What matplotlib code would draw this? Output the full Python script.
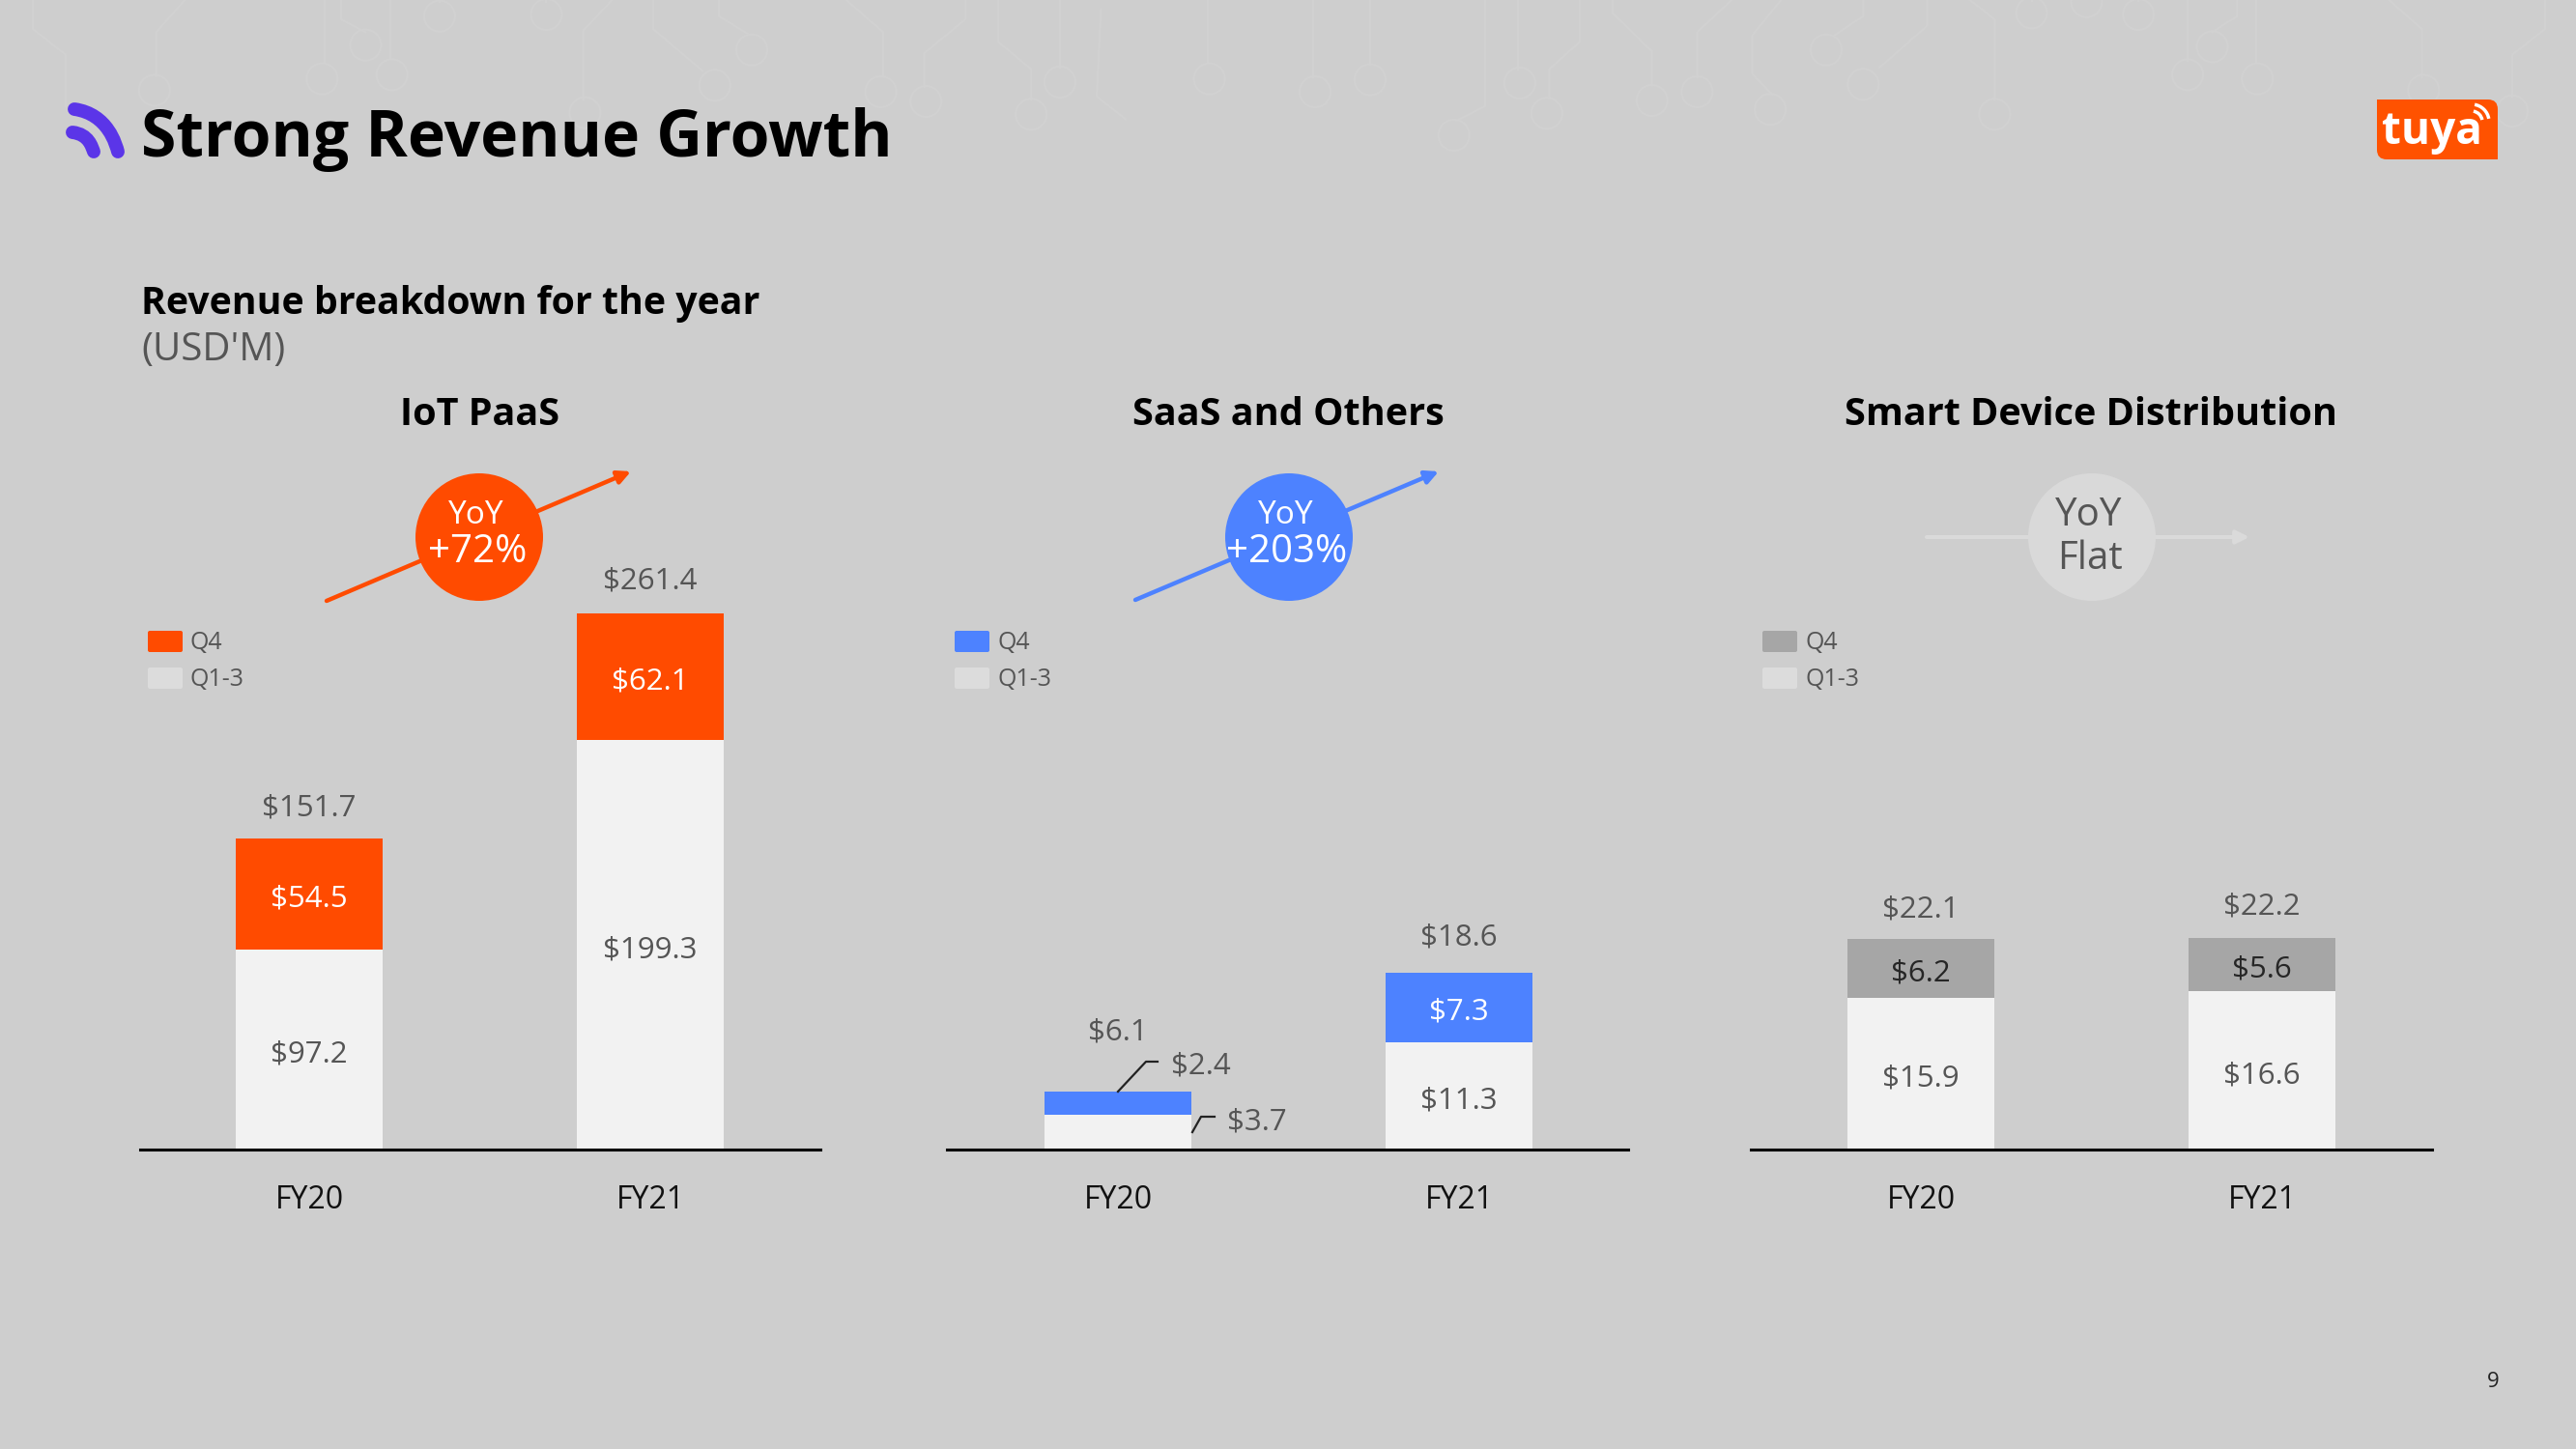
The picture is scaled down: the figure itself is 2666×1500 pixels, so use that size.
import matplotlib
matplotlib.use("Agg")
import matplotlib.pyplot as plt
from matplotlib.patches import Circle, FancyBboxPatch, Rectangle, PathPatch, Arc
from matplotlib.path import Path

plt.rcParams['font.family'] = ['Open Sans', 'DejaVu Sans']

# ---- data ----
categories = ["FY20", "FY21"]
panel_titles = ["IoT PaaS", "SaaS and Others", "Smart Device Distribution"]
q13_values = [[97.2, 199.3], [3.7, 11.3], [15.9, 16.6]]
q4_values = [[54.5, 62.1], [2.4, 7.3], [6.2, 5.6]]
totals = [[151.7, 261.4], [6.1, 18.6], [22.1, 22.2]]
q4_colors = ["#FF4B00", "#4D82FF", "#A6A6A6"]
q4_text = ["white", "white", "#262626"]
yoy_top = ["YoY", "YoY", "YoY"]
yoy_bottom = ["+72%", "+203%", "Flat"]
legend_labels = ["Q4", "Q1-3"]

W, H = 2666, 1500
BG = "#CECECE"
LIGHT = "#F2F2F2"
GRAY = "#555555"
fig = plt.figure(figsize=(W / 100, H / 100), dpi=100, facecolor=BG)

bg = fig.add_axes([0, 0, 1, 1], zorder=0)
bg.set_xlim(0, W); bg.set_ylim(H, 0); bg.axis("off")

# faint circuit pattern along the top (traced in crop coordinates)
C = "#D1D1D1"
left_traces = [
    ([(40,0),(40,90),(80,170),(80,330)], None),
    ([(225,0),(190,100),(190,235)], (188,280)),
    ([(395,0),(395,195)], (392,245)),
    ([(415,0),(415,60),(445,100)], (445,140)),
    ([(475,0),(475,180)], (477,232)),
    ([(535,0),(535,5)], (535,50)),
    ([(665,0),(665,5)], (665,45)),
    ([(745,0),(710,95),(710,310)], (712,350)),
    ([(795,0),(795,90),(855,220)], (870,265)),
    ([(875,0),(875,50),(910,105)], (915,155)),
    ([(1030,0),(1075,100),(1075,235)], (1072,285)),
    ([(1175,0),(1175,60),(1125,165),(1125,270)], (1127,315)),
    ([(1215,0),(1215,130),(1255,215),(1255,310)], (1255,355)),
    ([(1290,0),(1290,210)], (1290,255)),
    ([(1340,30),(1335,300),(1370,370)], None),
    ([(1470,0),(1470,195)], (1472,245)),
]
right_traces = [
    ([(30,0),(30,240)], (33,285)),
    ([(100,0),(100,200)], (100,248)),
    ([(240,0),(240,330),(205,375)], (202,420)),
    ([(280,0),(280,215)], (282,258)),
    ([(355,0),(355,130),(318,215),(318,305)], (315,352)),
    ([(395,0),(395,40),(443,160),(443,265)], (443,312)),
    ([(540,0),(498,100),(498,240)], (498,285)),
    ([(600,0),(565,110),(565,230),(590,295)], (587,340)),
    ([(700,0),(700,50),(665,110)], (655,155)),
    ([(778,0),(778,80),(720,210)], (700,262)),
    ([(830,0),(860,60),(860,310)], (860,355)),
    ([(905,0),(905,2)], (905,40)),
    ([(1035,0),(1035,2)], (1035,45)),
    ([(972,0),(972,1)], (972,5)),
    ([(1095,0),(1095,190)], (1095,232)),
    ([(1155,0),(1155,50),(1125,100)], (1125,145)),
    ([(1178,0),(1178,195)], (1180,245)),
    ([(1340,0),(1380,90),(1380,240)], (1382,280)),
    ([(1530,0),(1530,90),(1490,170),(1490,300)], (1490,345)),
]
for traces, ox in ((left_traces, 0), (right_traces, 1333)):
    for pts, circ in traces:
        bg.plot([p[0] / 1.176 + ox for p in pts], [p[1] / 3 for p in pts], color=C, lw=1.6)
        if circ:
            bg.add_patch(Circle((circ[0] / 1.176 + ox, circ[1] / 3), 16, fill=False, ec=C, lw=1.6))

ov = fig.add_axes([0, 0, 1, 1], zorder=5)
ov.set_xlim(0, W); ov.set_ylim(H, 0); ov.axis("off"); ov.patch.set_alpha(0)

BASE = 1190
AX_H = 620
SPACING = 353
panels = [(145, 849, 320), (980, 1685, 1157), (1812, 2517, 1988)]
px_per_unit = [2.125, 9.85, 9.85]
legend_x = [153, 988, 1824]
bar_w = 0.433
label_fs = 22.5
label_drop = 5
total_gap = {(0, 0): 31, (0, 1): 33, (1, 0): 61, (1, 1): 36, (2, 0): 31, (2, 1): 33}
for i, (x0, x1, c0) in enumerate(panels):
    ax = fig.add_axes([x0 / W, 1 - BASE / H, (x1 - x0) / W, AX_H / H], zorder=3)
    ax.patch.set_alpha(0)
    ax.set_xlim((x0 - c0) / SPACING, (x1 - c0) / SPACING)
    ax.set_ylim(0, AX_H / px_per_unit[i])
    xs = [0, 1]
    ax.bar(xs, q13_values[i], width=bar_w, color=LIGHT)
    ax.bar(xs, q4_values[i], width=bar_w, bottom=q13_values[i], color=q4_colors[i])
    for s in ["top", "left", "right"]:
        ax.spines[s].set_visible(False)
    ax.spines["bottom"].set_linewidth(2.2)
    ax.spines["bottom"].set_color("black")
    ax.set_yticks([])
    ax.set_xticks(xs, categories)
    ax.tick_params(axis="x", length=0, pad=26, labelsize=23, labelcolor="#111111")
    drop = label_drop / px_per_unit[i]
    for k in xs:
        q13, q4, tot = q13_values[i][k], q4_values[i][k], totals[i][k]
        ax.text(k, tot + total_gap[(i, k)] / px_per_unit[i], f"${tot}", ha="center", va="center",
                fontsize=label_fs, color=GRAY, clip_on=False)
        if i == 1 and k == 0:
            continue
        ax.text(k, q13 / 2 - drop, f"${q13}", ha="center", va="center", fontsize=label_fs, color=GRAY)
        ax.text(k, q13 + q4 / 2 - drop, f"${q4}", ha="center", va="center", fontsize=label_fs, color=q4_text[i])
    # legend
    lx = legend_x[i]
    for j, (ly, col) in enumerate(zip([664, 702], [q4_colors[i], "#DCDCDC"])):
        ov.add_patch(FancyBboxPatch((lx, ly - 11), 36, 22, boxstyle="round,pad=0,rounding_size=2", fc=col, ec="none"))
        ov.text(lx + 44, ly + 1, legend_labels[j], fontsize=18, color=GRAY, ha="left", va="center")

# small SaaS FY20 labels with leader lines
ov.plot([1157, 1186, 1198], [1130, 1099, 1099], color="#222222", lw=1.6)
ov.plot([1234, 1243, 1257], [1172, 1156, 1156], color="#222222", lw=1.6)
ov.text(1243, 1104, f"${q4_values[1][0]}", fontsize=label_fs, color=GRAY, ha="center", va="center")
ov.text(1301, 1162, f"${q13_values[1][0]}", fontsize=label_fs, color=GRAY, ha="center", va="center")

# panel titles
for t, x in zip(panel_titles, [497, 1333, 2164]):
    ov.text(x, 429, t, fontsize=28.5, fontweight="bold", color="black", ha="center", va="center")

# YoY arrows and bubbles
arrows = [((338, 622), (653, 488)), ((1175, 621), (1489, 488)), ((1994, 556), (2328, 556))]
bub = [(496, 556), (1334, 556), (2165, 556)]
bub_col = ["#FF4B00", "#4D82FF", "#D9D9D9"]
arr_col = ["#FF4B00", "#4D82FF", "#DADADA"]
txt_col = ["white", "white", GRAY]
arr_lw = [3.2, 3.2, 3]
top_fs = [24, 24, 29]
top_y = [-23, -23, -22]
bot_y = [16, 16, 23]
for a, b, bc, ac, tc, lw, t, bl, tfs, ty, by in zip(arrows, bub, bub_col, arr_col, txt_col, arr_lw,
                                                     yoy_top, yoy_bottom, top_fs, top_y, bot_y):
    ov.annotate("", xy=a[1], xytext=a[0], arrowprops=dict(arrowstyle="-|>,head_length=0.8,head_width=0.4",
                color=ac, lw=lw, shrinkA=0, shrinkB=0), zorder=2)
    ov.add_patch(Circle(b, 66, fc=bc, ec="none", zorder=3))
    ov.text(b[0] - 3, b[1] + ty, t, fontsize=tfs, color=tc, ha="center", va="center", zorder=4)
    ov.text(b[0] - 2, b[1] + by, bl, fontsize=29, color=tc, ha="center", va="center", zorder=4)

# headers
ov.text(146, 145, "Strong Revenue Growth", fontsize=47.5, fontweight="bold", color="black", ha="left", va="center")
ov.text(146, 314, "Revenue breakdown for the year", fontsize=28.3, fontweight="bold", color="black", ha="left", va="center")
ov.text(146, 363, "(USD'M)", fontsize=29, color=GRAY, ha="left", va="center")
ov.text(2580, 1430, "9", fontsize=16, color="#222222", ha="center", va="center")

# title icon: purple signal arcs
P = "#5B35E8"
for verts in ([(77, 113), (112, 118), (120, 150), (122, 157)], [(75, 137), (92, 139), (95, 152), (97, 157)]):
    ov.add_patch(PathPatch(Path(verts, [Path.MOVETO, Path.CURVE4, Path.CURVE4, Path.CURVE4]),
                           fill=False, ec=P, lw=10, capstyle="round"))

# tuya logo
O = "#FF5200"
ov.add_patch(FancyBboxPatch((2460, 103), 125, 62, boxstyle="round,pad=0,rounding_size=10", fc=O, ec="none"))
ov.add_patch(Rectangle((2460, 103), 14, 14, fc=O, ec="none"))
ov.add_patch(Rectangle((2571, 151), 14, 14, fc=O, ec="none"))
ov.text(2517, 136, "tuya", fontsize=33, fontweight="bold", color="white", ha="center", va="center")
ov.add_patch(Arc((2558, 126), 22, 22, theta1=-80, theta2=-10, ec="white", lw=2.5))
ov.add_patch(Arc((2558, 126), 36, 36, theta1=-80, theta2=-10, ec="white", lw=2.5))

fig.savefig("out.png", dpi=100, facecolor=BG)
